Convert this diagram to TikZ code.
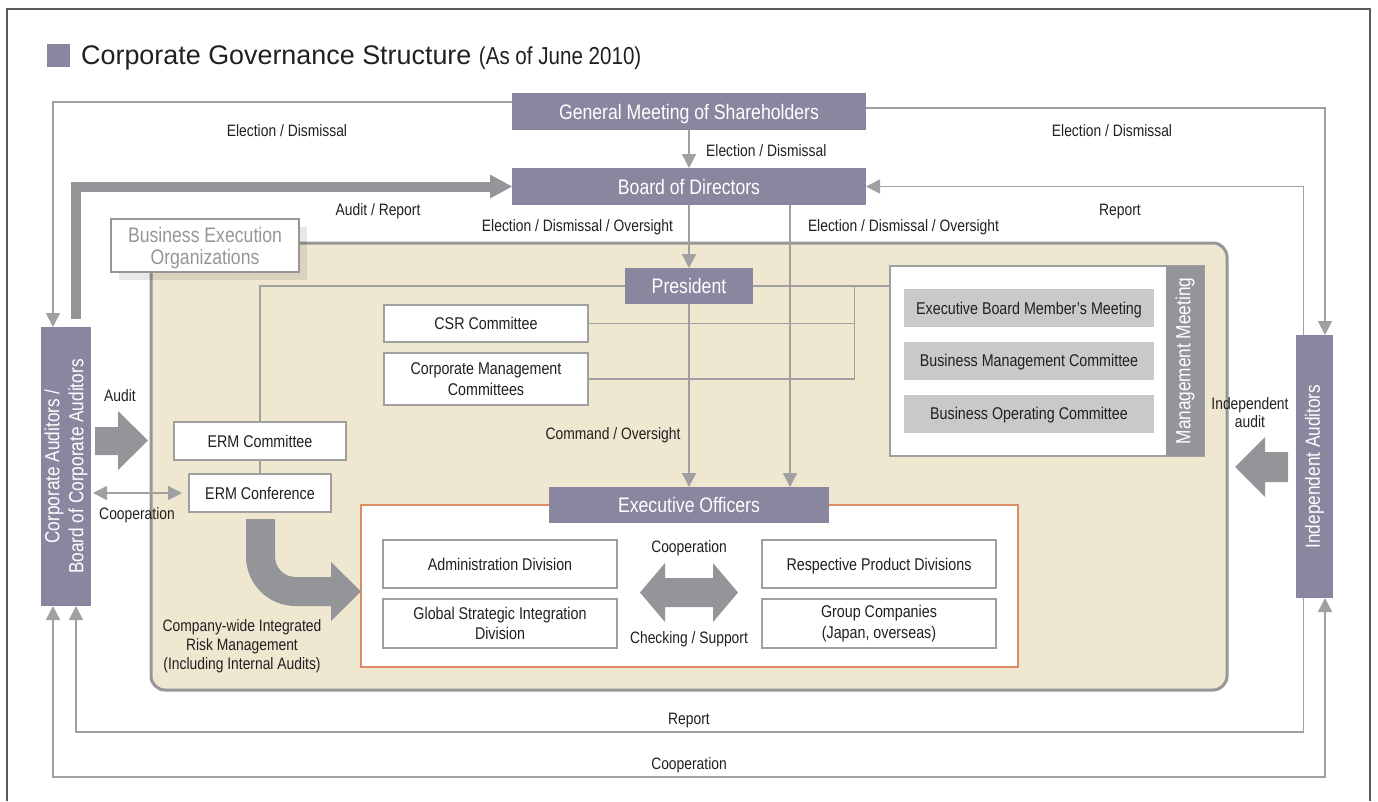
\documentclass[tikz,border=0pt]{standalone}
\usepackage{fontspec}
\setmainfont{Liberation Sans}[FakeStretch=0.84]
\newfontfamily\wideft{Liberation Sans}
\usetikzlibrary{arrows.meta,calc}
\definecolor{pur}{RGB}{139,134,160}
\definecolor{beige}{RGB}{239,231,208}
\definecolor{bgline}{RGB}{150,150,150}
\definecolor{lngray}{RGB}{160,160,162}
\definecolor{blkgray}{RGB}{147,149,152}
\definecolor{gbx}{RGB}{200,201,203}
\definecolor{orn}{RGB}{222,140,100}
\definecolor{txt}{RGB}{35,31,32}
\definecolor{framec}{RGB}{90,90,90}
\definecolor{bxline}{RGB}{160,160,162}
\definecolor{beotxt}{RGB}{150,150,152}
\newcommand\fsLbl{\fontsize{16.5}{19}\selectfont}
\newcommand\fsBox{\fontsize{17}{20.5}\selectfont}
\newcommand\fsHead{\fontsize{21}{22}\selectfont}
\newcommand\fsVert{\fontsize{20.5}{24}\selectfont}
\pgfdeclarelayer{bg}
\pgfdeclarelayer{lines}
\pgfsetlayers{bg,lines,main}
\tikzset{
  headbox/.style={fill=pur, text=white, font=\fsHead, inner sep=0pt, outer sep=0pt, text height=15.1pt, text depth=0pt},
  wbox/.style={draw=bxline, line width=1.5pt, fill=white, text=txt, font=\fsBox, align=center, inner sep=0pt, outer sep=0pt},
  slbox/.style={text height=12.2pt, text depth=0pt},
  gbox/.style={fill=gbx, text=txt, font=\fsBox, inner sep=0pt, outer sep=0pt, text height=12.2pt, text depth=0pt},
  lbl/.style={text=txt, font=\fsLbl, align=center, inner sep=0pt},
  sllbl/.style={text height=11.9pt, text depth=0pt},
  conn/.style={draw=lngray, line width=1.5pt, -{Triangle[length=14pt,width=14pt]}},
  dconn/.style={draw=lngray, line width=1.5pt, {Triangle[length=14pt,width=14pt]}-{Triangle[length=14pt,width=14pt]}},
  thinln/.style={draw=lngray, line width=1.5pt},
  vtext/.style={rotate=90, text=white, font=\fsVert, align=center, inner sep=0pt}
}
\begin{document}
\begin{tikzpicture}[x=1pt,y=-1pt]
\useasboundingbox (0,0) rectangle (1378,801);
% frame
\draw[framec, line width=1.2pt] (7,801) -- (7,9) -- (1370,9) -- (1370,801);
% title
\fill[pur] (47,44) rectangle (70,67);
\node[anchor=base west, inner sep=0pt, text=txt] (title) at (81,64) {\wideft\fontsize{26.9}{30}\selectfont Corporate Governance Structure \rmfamily\fontsize{24.5}{26}\selectfont(As of June 2010)};

% background beige
\begin{pgfonlayer}{bg}
\draw[fill=beige, draw=bgline, line width=3pt, rounded corners=14pt] (151,243) rectangle (1227,690);
\fill[black, opacity=0.09] (119,227) rectangle (307,280);
\end{pgfonlayer}

% exec container
\draw[draw=orn, line width=1.2pt, fill=white] (361,505) rectangle (1018,667);

% head boxes
\node[headbox, minimum width=354pt, minimum height=37pt] (gm) at (689,111.5) {General Meeting of Shareholders};
\node[headbox, minimum width=354pt, minimum height=37pt] (bod) at (689,186.5) {Board of Directors};
\node[headbox, minimum width=128pt, minimum height=36pt] (pres) at (689,286) {President};
\node[headbox, minimum width=280pt, minimum height=36pt] (exec) at (689,505) {Executive Officers};

% side boxes
\node[fill=pur, inner sep=0pt, outer sep=0pt, minimum width=50pt, minimum height=279pt] (ca) at (66,466.5) {};
\node[vtext] (catext) at (ca.center) {Corporate Auditors /\\Board of Corporate Auditors};
\node[fill=pur, inner sep=0pt, outer sep=0pt, minimum width=37pt, minimum height=263pt] (ia) at (1314.5,466.5) {};
\node[vtext] (iatext) at (ia.center) {Independent Auditors};

% business execution organizations
\node[draw=bgline, line width=2pt, fill=white, inner sep=0pt, outer sep=0pt, minimum width=188pt, minimum height=53pt] (beo) at (205,245.5) {};
\node[text=beotxt, font=\fsHead, align=center, inner sep=0pt] (beotext) at (205,248) {Business Execution\\Organizations};

% committees
\node[wbox, slbox, minimum width=204pt, minimum height=37pt] (csr) at (486,323.5) {CSR Committee};
\node[wbox, minimum width=204pt, minimum height=52pt] (cmc) at (486,379) {Corporate Management\\Committees};
\node[wbox, slbox, minimum width=172pt, minimum height=38pt] (ermc) at (260,441) {ERM Committee};
\node[wbox, slbox, minimum width=142pt, minimum height=38pt] (ermf) at (260,493) {ERM Conference};

% divisions
\node[wbox, slbox, minimum width=234pt, minimum height=48pt] (adm) at (500,564) {Administration Division};
\node[wbox, minimum width=234pt, minimum height=49pt] (gsi) at (500,623.5) {Global Strategic Integration\\Division};
\node[wbox, slbox, minimum width=234pt, minimum height=48pt] (rpd) at (879,564) {Respective Product Divisions};
\node[wbox, minimum width=234pt, minimum height=49pt] (grp) at (879,623.5) {Group Companies\\(Japan, overseas)};

% management meeting
\node[wbox, minimum width=314pt, minimum height=190pt] (mm) at (1047,361) {};
\node[fill=blkgray, inner sep=0pt, outer sep=0pt, minimum width=38pt, minimum height=190pt] (mmside) at (1185,361) {};
\node[vtext] (mmtext) at (mmside.center) {Management Meeting};
\node[gbox, minimum width=250pt, minimum height=38pt] (ebm) at (1029,308) {Executive Board Member's Meeting};
\node[gbox, minimum width=250pt, minimum height=38pt] (bmc) at (1029,360.5) {Business Management Committee};
\node[gbox, minimum width=250pt, minimum height=38pt] (boc) at (1029,413.5) {Business Operating Committee};

% coordinates
\coordinate (jx) at (854.5,286);
\coordinate (rb) at (689,732);
\coordinate (cb) at (689,777);

% connectors
\begin{pgfonlayer}{lines}
\draw[conn] ([yshift=9.5pt]gm.west) -| ([xshift=-13pt]ca.north);
\draw[conn] ([yshift=3.5pt]gm.east) -| ([xshift=10.5pt]ia.north);
\draw[conn] (gm) -- (bod);
\draw[conn] ([xshift=-11pt]ia.north) |- (bod.east);
\draw[conn] (bod) -- (pres);
\draw[conn] ([xshift=101pt]bod.south) -- ([xshift=101pt]exec.north);
\draw[conn] (pres) -- (exec);
\draw[thinln] (ermc.north) |- (pres.west);
\draw[thinln] (pres.east) -- (pres.east -| mm.west);
\draw[thinln] (jx) |- (cmc.east);
\draw[thinln] (csr.east) -- (csr.east -| jx);
\draw[thinln] (ermc) -- (ermf);
\draw[dconn] ([xshift=2pt]ca.east |- ermf.west) -- ([xshift=-7pt]ermf.west);
\draw[conn] ([xshift=-11pt]ia.south) |- (rb) -| ([xshift=10pt]ca.south);
\draw[dconn] ([xshift=-13pt]ca.south) |- (cb) -| ([xshift=10.5pt]ia.south);
% thick audit / report
\draw[line width=10pt, blkgray] ([xshift=10pt,yshift=8pt]ca.north) |- ([xshift=-21pt]bod.west);
\fill[blkgray] (bod.west) -- ++(-22,-12) -- ++(0,24) -- cycle;
\end{pgfonlayer}

% block arrows
\fill[blkgray] (95,427) -- (118,427) -- (118,411) -- (148,440.5) -- (118,470) -- (118,455) -- (95,455) -- cycle;
\fill[blkgray] (1288,452) -- (1265,452) -- (1265,437) -- (1235,467) -- (1265,497) -- (1265,482) -- (1288,482) -- cycle;
\fill[blkgray] (640,592.5) -- (665,563) -- (665,578) -- (713,578) -- (713,563) -- (738,592.5) -- (713,622) -- (713,607) -- (665,607) -- (665,622) -- cycle;
\fill[blkgray] (246,519) -- (246,556.5) arc(180:270:49.5pt) -- (331,606) -- (331,621) -- (361,591.5) -- (331,562) -- (331,577) -- (295.5,577) arc(270:180:20.5pt) -- (275,519) -- cycle;

% labels
\node[lbl, sllbl] (l1) at (287,131) {Election / Dismissal};
\node[lbl, sllbl] (l2) at (1112,131) {Election / Dismissal};
\node[lbl, sllbl, anchor=west] (l3) at (706,151) {Election / Dismissal};
\node[lbl, sllbl] (l4) at (378,210) {Audit / Report};
\node[lbl, sllbl] (l5) at (1120,210) {Report};
\node[lbl, sllbl] (l6) at (577.5,226) {Election / Dismissal / Oversight};
\node[lbl, sllbl] (l7) at (903.5,226) {Election / Dismissal / Oversight};
\node[lbl, sllbl] (l8) at (613,434) {Command / Oversight};
\node[lbl, sllbl] (l9) at (120,396) {Audit};
\node[lbl, sllbl] (l10) at (137,514) {Cooperation};
\node[lbl] (l11) at (242,646) {Company-wide Integrated\\Risk Management\\(Including Internal Audits)};
\node[lbl, sllbl] (l12) at (689,547) {Cooperation};
\node[lbl, sllbl] (l13) at (689,638) {Checking / Support};
\node[lbl, font=\fontsize{16.5}{18}\selectfont] (l14) at (1250,413) {Independent\\audit};
\node[lbl, sllbl] (l15) at (689,719) {Report};
\node[lbl, sllbl] (l16) at (689,764) {Cooperation};
\end{tikzpicture}
\end{document}
